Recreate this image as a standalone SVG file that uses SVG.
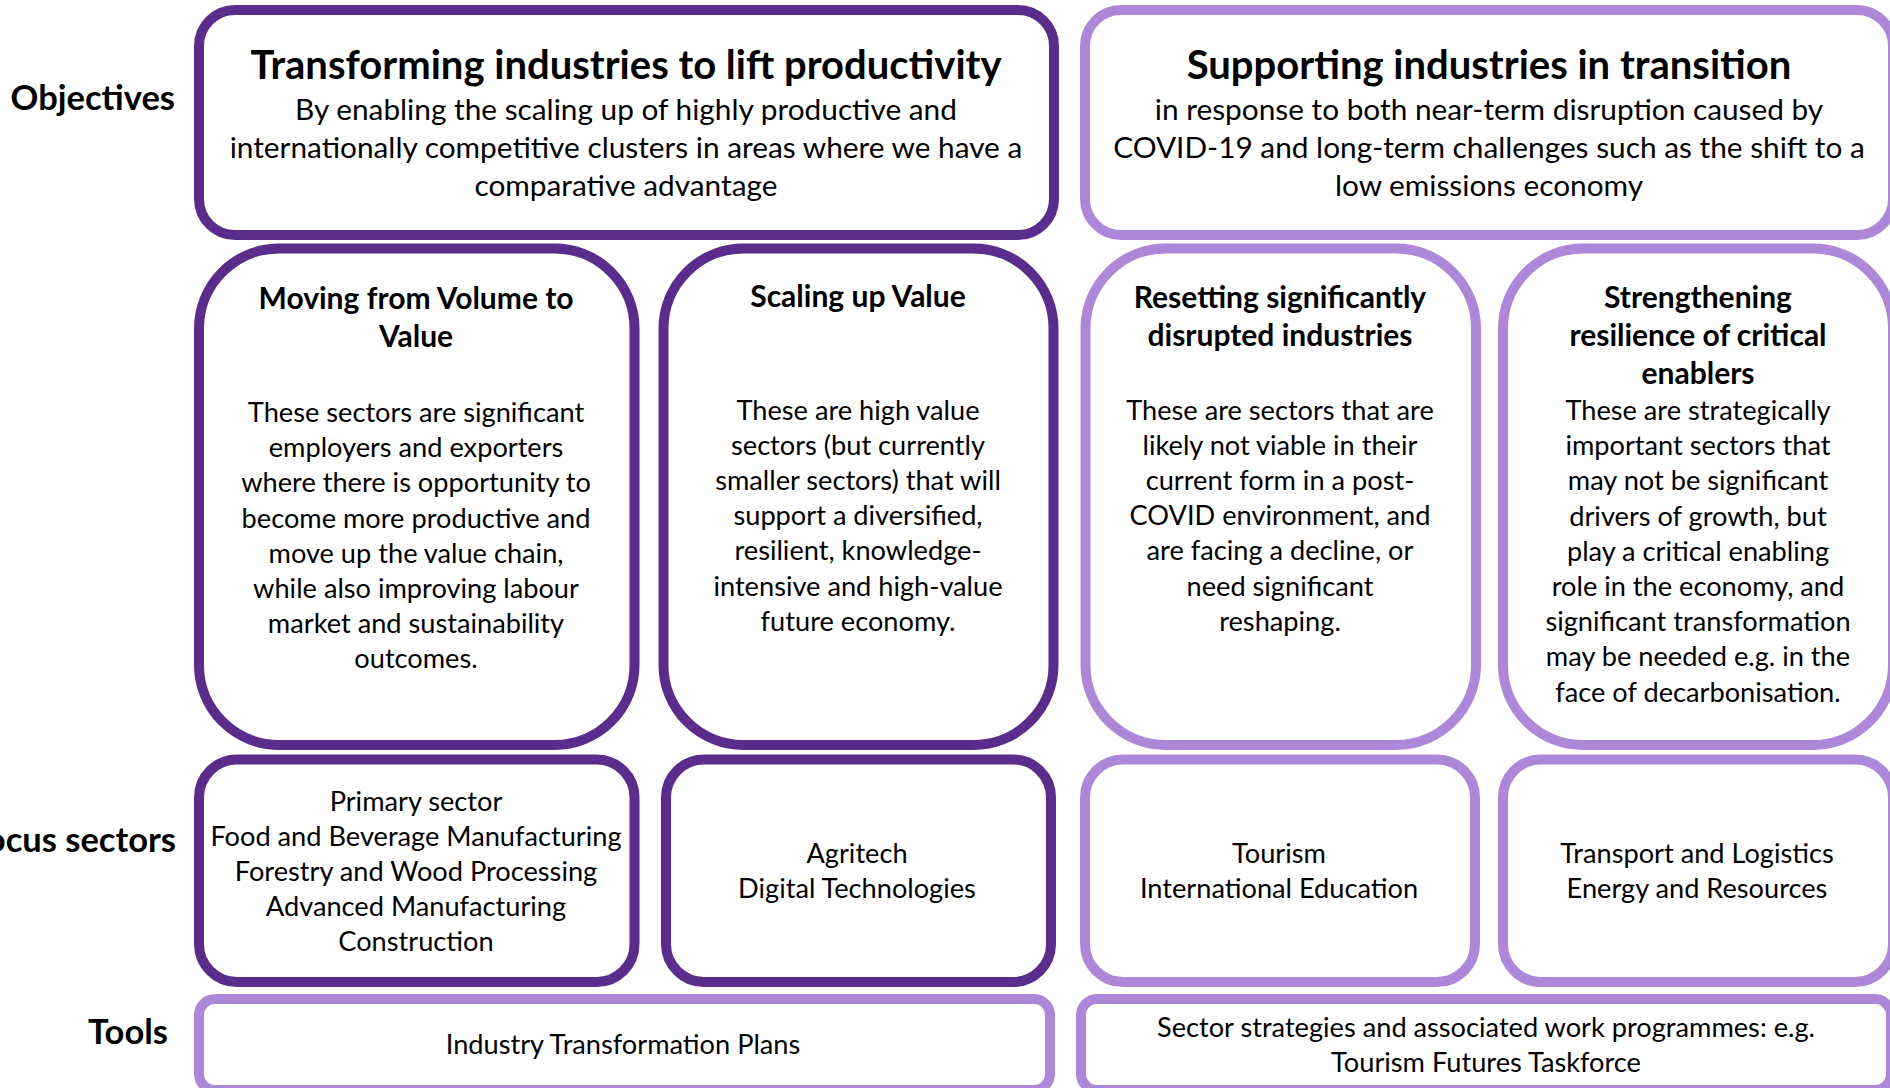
<svg xmlns="http://www.w3.org/2000/svg" width="1890" height="1088" viewBox="0 0 1890 1088">
<style>
.bg{fill:#ffffff}
.dk{fill:#ffffff;stroke:#5A2D8C;stroke-width:10}
.lt{fill:#ffffff;stroke:#AD88D9;stroke-width:10}
text{font-family:Lato,"Open Sans","Liberation Sans",sans-serif;fill:#000000}
.lbl{font-size:34.5px;font-weight:bold;text-anchor:end}
.ttl{font-size:40px;font-weight:bold;text-anchor:middle}
.obj{font-size:29.8px;text-anchor:middle}
.hd{font-size:30px;font-weight:bold;text-anchor:middle}
.bd{font-size:27.2px;text-anchor:middle}
</style>
<rect class="bg" x="0" y="0" width="1890" height="1088"/>
<g id="labels">
<text class="lbl" x="175" y="110">Objectives</text>
<text class="lbl" x="176" y="852">Focus sectors</text>
<text class="lbl" x="168" y="1044">Tools</text>
</g>
<g id="obj-transform">
<rect class="dk" x="199" y="10" width="855" height="225" rx="36"/>
<text class="ttl" x="626" y="79">Transforming industries to lift productivity</text>
<text class="obj" x="626" y="120">By enabling the scaling up of highly productive and</text>
<text class="obj" x="626" y="158">internationally competitive clusters in areas where we have a</text>
<text class="obj" x="626" y="196">comparative advantage</text>
</g>
<g id="obj-support">
<rect class="lt" x="1085" y="10" width="808" height="225" rx="36"/>
<text class="ttl" x="1489" y="79">Supporting industries in transition</text>
<text class="obj" x="1489" y="120">in response to both near-term disruption caused by</text>
<text class="obj" x="1489" y="158">COVID-19 and long-term challenges such as the shift to a</text>
<text class="obj" x="1489" y="196">low emissions economy</text>
</g>
<g id="volume-to-value">
<rect class="dk" x="199" y="248.5" width="435.5" height="496.5" rx="80"/>
<text class="hd" x="416" y="309">Moving from Volume to</text>
<text class="hd" x="416" y="347">Value</text>
<text class="bd" x="416" y="422">These sectors are significant</text>
<text class="bd" x="416" y="457.2">employers and exporters</text>
<text class="bd" x="416" y="492.4">where there is opportunity to</text>
<text class="bd" x="416" y="527.6">become more productive and</text>
<text class="bd" x="416" y="562.8">move up the value chain,</text>
<text class="bd" x="416" y="598">while also improving labour</text>
<text class="bd" x="416" y="633.2">market and sustainability</text>
<text class="bd" x="416" y="668.4">outcomes.</text>
</g>
<g id="scaling-up-value">
<rect class="dk" x="663.5" y="248.5" width="390" height="496.5" rx="80"/>
<text class="hd" x="858" y="307">Scaling up Value</text>
<text class="bd" x="858" y="419.5">These are high value</text>
<text class="bd" x="858" y="454.7">sectors (but currently</text>
<text class="bd" x="858" y="489.9">smaller sectors) that will</text>
<text class="bd" x="858" y="525.1">support a diversified,</text>
<text class="bd" x="858" y="560.3">resilient, knowledge-</text>
<text class="bd" x="858" y="595.5">intensive and high-value</text>
<text class="bd" x="858" y="630.7">future economy.</text>
</g>
<g id="resetting">
<rect class="lt" x="1085.5" y="248.5" width="390.5" height="496.5" rx="80"/>
<text class="hd" x="1280" y="308">Resetting significantly</text>
<text class="hd" x="1280" y="346">disrupted industries</text>
<text class="bd" x="1280" y="419.5">These are sectors that are</text>
<text class="bd" x="1280" y="454.7">likely not viable in their</text>
<text class="bd" x="1280" y="489.9">current form in a post-</text>
<text class="bd" x="1280" y="525.1">COVID environment, and</text>
<text class="bd" x="1280" y="560.3">are facing a decline, or</text>
<text class="bd" x="1280" y="595.5">need significant</text>
<text class="bd" x="1280" y="630.7">reshaping.</text>
</g>
<g id="strengthening">
<rect class="lt" x="1503" y="248.5" width="390" height="496.5" rx="80"/>
<text class="hd" x="1698" y="308">Strengthening</text>
<text class="hd" x="1698" y="346">resilience of critical</text>
<text class="hd" x="1698" y="384">enablers</text>
<text class="bd" x="1698" y="420">These are strategically</text>
<text class="bd" x="1698" y="455.2">important sectors that</text>
<text class="bd" x="1698" y="490.4">may not be significant</text>
<text class="bd" x="1698" y="525.6">drivers of growth, but</text>
<text class="bd" x="1698" y="560.8">play a critical enabling</text>
<text class="bd" x="1698" y="596">role in the economy, and</text>
<text class="bd" x="1698" y="631.2">significant transformation</text>
<text class="bd" x="1698" y="666.4">may be needed e.g. in the</text>
<text class="bd" x="1698" y="701.6">face of decarbonisation.</text>
</g>
<g id="focus-volume">
<rect class="dk" x="199" y="759.5" width="435.5" height="222.5" rx="38"/>
<text class="bd" x="416" y="811">Primary sector</text>
<text class="bd" x="416" y="846">Food and Beverage Manufacturing</text>
<text class="bd" x="416" y="881">Forestry and Wood Processing</text>
<text class="bd" x="416" y="916">Advanced Manufacturing</text>
<text class="bd" x="416" y="951">Construction</text>
</g>
<g id="focus-scaling">
<rect class="dk" x="666" y="759.5" width="385" height="222.5" rx="38"/>
<text class="bd" x="857" y="863">Agritech</text>
<text class="bd" x="857" y="898">Digital Technologies</text>
</g>
<g id="focus-resetting">
<rect class="lt" x="1085" y="759.5" width="390" height="222.5" rx="38"/>
<text class="bd" x="1279" y="863">Tourism</text>
<text class="bd" x="1279" y="898">International Education</text>
</g>
<g id="focus-strengthening">
<rect class="lt" x="1503" y="759.5" width="390" height="222.5" rx="38"/>
<text class="bd" x="1697" y="863">Transport and Logistics</text>
<text class="bd" x="1697" y="898">Energy and Resources</text>
</g>
<g id="tools-itp">
<rect class="lt" x="199" y="999" width="851" height="91" rx="16"/>
<text class="bd" x="623" y="1054">Industry Transformation Plans</text>
</g>
<g id="tools-sector">
<rect class="lt" x="1081" y="999" width="810" height="91" rx="16"/>
<text class="bd" x="1486" y="1037">Sector strategies and associated work programmes: e.g.</text>
<text class="bd" x="1486" y="1072">Tourism Futures Taskforce</text>
</g>
</svg>
